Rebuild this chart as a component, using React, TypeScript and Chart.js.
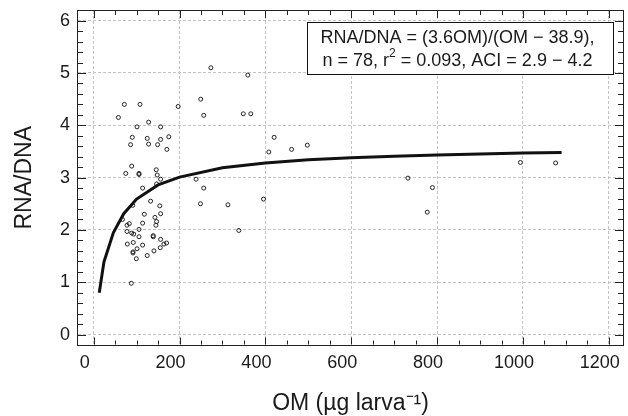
import React, { useEffect, useRef } from "react";
import { Chart, registerables } from "chart.js";

Chart.register(...registerables);

// Observed larvae: organic matter (µg larva^-1) and RNA/DNA ratio
const omValues = [
  71.5, 108, 57.6, 196.8, 249.4, 256.4, 128, 101, 156, 90,
  124.8, 156, 175, 86, 128, 149, 170.5, 88.6, 74.7, 105.6,
  105.6, 145.7, 148, 156, 146.6, 114, 238.5, 256.4, 248.7, 132.6,
  154, 91, 118, 156, 67, 142.7, 146.6, 114, 83, 77.7,
  145, 105.6, 77.7, 88.6, 93.3, 105.6, 138.8, 138.8, 156, 78.4,
  92.3, 114, 163.6, 169.8, 155, 101, 91.6, 91.6, 140.4, 124.8,
  99.3, 87.7, 273, 359, 348.5, 366, 420.4, 408, 461, 497.7,
  395.6, 732, 789, 994, 1076, 312.8, 338, 777,
];
const ratioValues = [
  4.4, 4.4, 4.15, 4.36, 4.5, 4.19, 4.06, 3.97, 3.97, 3.77,
  3.75, 3.73, 3.78, 3.63, 3.64, 3.63, 3.54, 3.22, 3.08, 3.08,
  3.06, 3.15, 3.05, 2.97, 2.88, 2.8, 2.97, 2.8, 2.5, 2.55,
  2.46, 2.47, 2.3, 2.31, 2.2, 2.24, 2.16, 2.13, 2.12, 2.09,
  2.09, 2.01, 1.97, 1.94, 1.92, 1.87, 1.89, 1.87, 1.82, 1.73,
  1.76, 1.71, 1.73, 1.75, 1.66, 1.64, 1.58, 1.56, 1.6, 1.51,
  1.45, 0.98, 5.1, 4.96, 4.22, 4.22, 3.77, 3.49, 3.54, 3.62,
  2.59, 2.99, 2.81, 3.29, 3.28, 2.48, 1.99, 2.34,
];

// Fitted curve
const fitOM = [13, 24, 46, 70, 100, 150, 200, 300, 400, 500, 600, 700, 800, 900, 1000, 1090];
const fitRatio = [0.8, 1.39, 1.95, 2.31, 2.59, 2.86, 3.01, 3.19, 3.28, 3.34, 3.38, 3.41, 3.43, 3.45, 3.47, 3.48];

const xTickValues = [0, 200, 400, 600, 800, 1000, 1200];
const yTickValues = [0, 1, 2, 3, 4, 5, 6];

const xTitle = "OM (µg larva⁻¹)";
const yTitle = "RNA/DNA";
const noteLine1 = "RNA/DNA = (3.6OM)/(OM − 38.9),";
const noteLine2a = "n = 78, r";
const noteLine2sup = "2";
const noteLine2b = " = 0.093, ACI = 2.9 − 4.2";

const FONT = "'Liberation Sans', Arial, Helvetica, sans-serif";

export default function App() {
  const ref = useRef<HTMLCanvasElement>(null);

  useEffect(() => {
    const canvas = ref.current;
    if (!canvas) return;

    const framePlugin = {
      id: "frameTicks",
      afterDraw(chart: any) {
        const { ctx, chartArea: a, scales } = chart;
        const x = scales.x;
        const y = scales.y;
        ctx.save();
        ctx.strokeStyle = "#222";
        ctx.lineWidth = 1;
        ctx.beginPath();
        for (let i = 0; i * 50 <= x.max; i++) {
          const v = i * 50;
          const px = Math.round(x.getPixelForValue(v)) + 0.5;
          const len = v % 200 === 0 ? 7 : 4;
          ctx.moveTo(px, a.bottom);
          ctx.lineTo(px, a.bottom - len);
          ctx.moveTo(px, a.top);
          ctx.lineTo(px, a.top + len);
        }
        for (let i = 0; i <= 30; i++) {
          const v = i * 0.2;
          const py = Math.round(y.getPixelForValue(v)) + 0.5;
          const len = i % 5 === 0 ? 8 : 5;
          ctx.moveTo(a.left, py);
          ctx.lineTo(a.left + len, py);
          ctx.moveTo(a.right, py);
          ctx.lineTo(a.right - len, py);
        }
        ctx.stroke();
        ctx.strokeRect(
          Math.round(a.left) - 0.5,
          Math.round(a.top) - 0.5,
          Math.round(a.right - a.left) + 1,
          Math.round(a.bottom - a.top) + 1
        );

        // annotation box
        const bx = Math.round(a.right) - 316 + 0.5;
        const by = Math.round(a.top) + 11 + 0.5;
        const bw = 306;
        const bh = 52;
        ctx.fillStyle = "#fff";
        ctx.fillRect(bx, by, bw, bh);
        ctx.strokeStyle = "#111";
        ctx.strokeRect(bx, by, bw, bh);

        const cx = bx + bw / 2 - 3;
        ctx.fillStyle = "#1a1a1a";
        ctx.textBaseline = "middle";
        ctx.textAlign = "center";
        ctx.font = `18px ${FONT}`;
        ctx.fillText(noteLine1, cx, by + 15.5);

        const mainFont = `18px ${FONT}`;
        const supFont = `12px ${FONT}`;
        ctx.font = mainFont;
        const wa = ctx.measureText(noteLine2a).width;
        const wb = ctx.measureText(noteLine2b).width;
        ctx.font = supFont;
        const ws = ctx.measureText(noteLine2sup).width;
        const total = wa + ws + wb;
        let sx = cx - total / 2;
        const ly = by + 38.5;
        ctx.textAlign = "left";
        ctx.font = mainFont;
        ctx.fillText(noteLine2a, sx, ly);
        sx += wa;
        ctx.font = supFont;
        ctx.fillText(noteLine2sup, sx, ly - 7);
        sx += ws;
        ctx.font = mainFont;
        ctx.fillText(noteLine2b, sx, ly);
        ctx.restore();
      },
    };

    const chart = new Chart(canvas, {
      type: "scatter",
      data: {
        datasets: [
          {
            label: "fit",
            data: fitOM.map((v, i) => ({ x: v, y: fitRatio[i] })),
            showLine: true,
            borderColor: "#111",
            borderWidth: 3,
            pointRadius: 0,
            tension: 0,
            fill: false,
            order: 0,
          },
          {
            label: "larvae",
            data: omValues.map((v, i) => ({ x: v, y: ratioValues[i] })),
            showLine: false,
            pointStyle: "circle",
            pointRadius: 2,
            borderWidth: 1,
            borderColor: "#222",
            backgroundColor: "rgba(255,255,255,0)",
            order: 1,
          },
        ],
      },
      options: {
        responsive: false,
        animation: false,
        devicePixelRatio: 1,
        layout: { padding: { left: 0, top: 11, right: 2.5, bottom: 0 } },
        plugins: {
          legend: { display: false },
          tooltip: { enabled: false },
        },
        scales: {
          x: {
            type: "linear",
            min: -36.5,
            max: 1233,
            afterBuildTicks: (scale: any) => {
              scale.ticks = xTickValues.map((v) => ({ value: v }));
            },
            afterFit: (scale: any) => {
              scale.height = 71.5;
              scale.paddingLeft = 0;
              scale.paddingRight = 0;
            },
            grid: { color: "#c4c4c4", lineWidth: 1, drawTicks: false },
            border: { display: false, dash: [3, 2] },
            ticks: {
              padding: 8,
              labelOffset: -9,
              maxRotation: 0,
              autoSkip: false,
              color: "#1a1a1a",
              font: { family: FONT, size: 18 },
              callback: (v: any) => String(v),
            },
            title: {
              display: true,
              text: xTitle,
              color: "#1a1a1a",
              font: { family: FONT, size: 23, lineHeight: 1 },
              padding: { top: 0, bottom: 1 },
            },
          },
          y: {
            type: "linear",
            min: -0.19,
            max: 6.185,
            afterBuildTicks: (scale: any) => {
              scale.ticks = yTickValues.map((v) => ({ value: v }));
            },
            afterFit: (scale: any) => {
              scale.width = 78;
              scale.paddingTop = 0;
              scale.paddingBottom = 0;
            },
            grid: { color: "#c4c4c4", lineWidth: 1, drawTicks: false },
            border: { display: false, dash: [3, 2] },
            ticks: {
              padding: 8,
              autoSkip: false,
              color: "#1a1a1a",
              font: { family: FONT, size: 18 },
              callback: (v: any) => String(v),
            },
            title: {
              display: true,
              text: yTitle,
              color: "#1a1a1a",
              font: { family: FONT, size: 23, lineHeight: 1.2 },
              padding: { top: 11, bottom: 0 },
            },
          },
        },
      },
      plugins: [framePlugin],
    } as any);

    return () => chart.destroy();
  }, []);

  return (
    <div style={{ position: "absolute", left: 0, top: 0, width: 628, height: 416, background: "#fff" }}>
      <canvas ref={ref} width={628} height={416} style={{ display: "block" }} />
    </div>
  );
}
